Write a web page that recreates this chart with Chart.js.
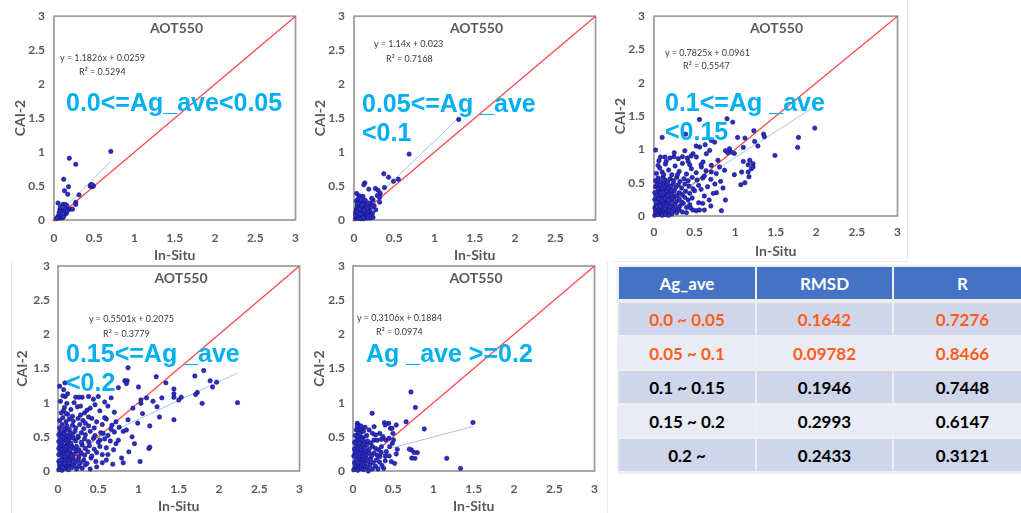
<!DOCTYPE html>
<html><head><meta charset="utf-8">
<script src="https://cdn.jsdelivr.net/npm/chart.js@4.4.1/dist/chart.umd.min.js"></script>
<style>
html,body{margin:0;padding:0;background:#fff;}
body{width:1021px;height:513px;overflow:hidden;position:relative;font-family:Lato,sans-serif;}
canvas{position:absolute;}
.t{position:absolute;white-space:nowrap;}
.ttl{font:bold 14px Lato,sans-serif;color:#595959;transform:translate(-50%,-50%);}
.eq{font:9px Lato,sans-serif;color:#3a3a3a;transform:translateY(-50%);}
.big{font:bold 25px "Liberation Sans",Arial,sans-serif;color:#00B0F0;line-height:29px;}
.ln{position:absolute;background:#ebebeb;}
#tbl{position:absolute;left:617px;top:265px;width:420px;height:209px;background:#eeeeee;}
.cell{position:absolute;display:flex;align-items:center;justify-content:center;font:bold 17px Lato,sans-serif;}
</style></head>
<body>
<div class="ln" style="left:907px;top:0;width:1px;height:259px"></div>
<div class="ln" style="left:610px;top:261px;width:298px;height:1px"></div>
<div class="ln" style="left:607px;top:262px;width:1px;height:251px"></div>
<div class="ln" style="left:11px;top:262px;width:1px;height:251px"></div>
<div id="tbl"></div>
<script>
// ---------- data ----------
const xTickValues = [0, 0.5, 1, 1.5, 2, 2.5, 3];
const xTickLabels = ['0', '0.5', '1', '1.5', '2', '2.5', '3'];
const yTickLabels = ['0', '0.5', '1', '1.5', '2', '2.5', '3'];
const panelTitles = ['AOT550', 'AOT550', 'AOT550', 'AOT550', 'AOT550'];
const xAxisTitle = 'In-Situ';
const yAxisTitle = 'CAI-2';
const slopes = [1.1826, 1.14, 0.7825, 0.5501, 0.3106];
const intercepts = [0.0259, 0.023, 0.0961, 0.2075, 0.1884];
const r2Values = ['0.5294', '0.7168', '0.5547', '0.3779', '0.0974'];
const rangeLabels = [
  ['0.0<=Ag_ave<0.05'],
  ['0.05<=Ag _ave', '<0.1'],
  ['0.1<=Ag _ave', '<0.15'],
  ['0.15<=Ag _ave', '<0.2'],
  ['Ag _ave >=0.2']
];
const oneToOne = [[0, 0], [3, 3]];

const p1 = [[0.706,1.01],[0.19,0.91],[0.27,0.82],[0.12,0.60],[0.18,0.49],[0.13,0.43],[0.17,0.38],[0.31,0.37],
[0.45,0.50],[0.46,0.52],[0.47,0.49],[0.48,0.51],[0.49,0.50],[0.47,0.52],
[0.27,0.26],[0.27,0.23],[0.05,0.25],[0.11,0.23],[0.14,0.23],[0.16,0.21],[0.20,0.16],[0.23,0.16],
[0.073,0.156],[0.094,0.137],[0.122,0.122],[0.065,0.107],[0.098,0.098],[0.131,0.088],[0.082,0.059],[0.114,0.059],
[0.049,0.049],[0.073,0.029],[0.106,0.034],[0.155,0.098],[0.175,0.146],[0.139,0.171],[0.06,0.07],[0.09,0.08],
[0.04,0.03],[0.12,0.05],[0.10,0.12],[0.08,0.19],[0.15,0.13],[0.03,0.02],[0.07,0.11],[0.11,0.09]];

const p2 = [[1.30,1.48],[0.685,0.97],[0.37,0.68],[0.43,0.63],[0.49,0.57],[0.55,0.60],[0.135,0.547],[0.122,0.518],
[0.184,0.454],[0.265,0.464],[0.298,0.439],[0.326,0.39],[0.379,0.478],[0.318,0.332],[0.033,0.39],[0.065,0.356],
[0.094,0.332],[0.236,0.293],[0.318,0.263],[0.236,0.039],
[0.02,0.02],[0.03,0.05],[0.04,0.09],[0.05,0.03],[0.06,0.12],[0.07,0.06],[0.08,0.15],[0.09,0.10],[0.10,0.04],
[0.11,0.13],[0.12,0.08],[0.13,0.18],[0.14,0.11],[0.15,0.05],[0.16,0.14],[0.17,0.21],[0.18,0.09],[0.19,0.17],
[0.20,0.12],[0.21,0.24],[0.22,0.19],[0.02,0.11],[0.03,0.16],[0.04,0.21],[0.05,0.18],[0.06,0.25],[0.07,0.20],
[0.08,0.28],[0.09,0.22],[0.10,0.17],[0.11,0.26],[0.12,0.21],[0.13,0.27],[0.14,0.16],[0.15,0.22],[0.16,0.08],
[0.17,0.12],[0.18,0.25],[0.19,0.06],[0.20,0.03],[0.12,0.02],[0.03,0.28],[0.05,0.31],[0.07,0.33],[0.09,0.30],
[0.11,0.35],[0.14,0.29],[0.04,0.14],[0.06,0.07],[0.08,0.02],[0.10,0.09],[0.13,0.04],[0.15,0.15],[0.17,0.03],
[0.02,0.07],[0.045,0.24],[0.085,0.19],[0.125,0.14],[0.165,0.18],[0.105,0.23],[0.065,0.16],[0.035,0.12],
[0.075,0.09],[0.115,0.03],[0.25,0.21],[0.27,0.15],[0.23,0.10],[0.29,0.36],[0.22,0.32]];

const p3 = [[1.98,1.32],[1.78,1.18],[1.77,1.03],[1.49,0.91],[0.90,1.46],[0.97,1.41],[0.56,1.45],[0.10,1.18],
[0.02,0.99],[0.39,1.23],[1.23,1.28],[1.35,1.23],[1.36,1.19],[1.12,1.17],[1.03,1.18],[1.24,1.12],[1.28,1.05],
[1.10,1.03],[0.99,0.94],[0.95,0.96],[1.10,0.82],[1.16,0.77],[1.20,0.71],[0.99,0.62],[1.07,0.47],[1.12,0.50],
[0.88,0.24],[0.83,0.08],[0.77,0.35],[0.62,0.09],[0.52,0.08],[0.68,0.24],[0.93,1.01],[0.88,0.98],[0.91,0.95],
[1.18,0.836],[1.22,0.786],[1.22,0.736],[1.08,0.66],[1.16,0.66],[1.17,0.59],[0.73,0.34],[0.60,0.19],[0.56,0.09],
[0.48,0.09],[0.706,1.134],[0.747,1.109],[0.686,0.985],[0.645,0.935],[0.563,1.035],[0.522,0.886],[0.481,0.935],
[0.604,0.811],[0.706,0.761],[0.788,0.836],[0.808,0.736],[0.869,0.687],[0.767,0.637],[0.706,0.662],[0.584,0.736],
[0.01,0.01],[0.03,0.04],[0.05,0.02],[0.07,0.06],[0.09,0.03],[0.11,0.08],[0.13,0.05],[0.15,0.09],[0.17,0.04],
[0.19,0.07],[0.22,0.03],[0.25,0.08],[0.28,0.05],[0.31,0.09],[0.35,0.06],[0.02,0.07],[0.06,0.09],[0.10,0.01],
[0.14,0.02],[0.18,0.01],
[0.01,0.12],[0.03,0.16],[0.05,0.11],[0.07,0.18],[0.09,0.13],[0.11,0.17],[0.13,0.12],[0.15,0.19],[0.17,0.14],
[0.19,0.11],[0.21,0.16],[0.23,0.13],[0.26,0.18],[0.29,0.12],[0.32,0.15],[0.36,0.19],[0.40,0.13],[0.44,0.17],
[0.04,0.14],[0.08,0.15],[0.12,0.19],[0.16,0.16],[0.20,0.14],[0.24,0.11],
[0.01,0.25],[0.03,0.21],[0.05,0.28],[0.07,0.23],[0.09,0.27],[0.11,0.22],[0.13,0.29],[0.15,0.24],[0.17,0.21],
[0.19,0.27],[0.22,0.23],[0.25,0.29],[0.28,0.22],[0.31,0.26],[0.34,0.21],[0.38,0.28],[0.42,0.24],[0.47,0.27],
[0.06,0.26],[0.10,0.24],[0.14,0.26],[0.18,0.24],[0.23,0.27],
[0.01,0.35],[0.03,0.31],[0.05,0.38],[0.07,0.33],[0.09,0.37],[0.11,0.32],[0.13,0.39],[0.15,0.34],[0.17,0.31],
[0.19,0.36],[0.22,0.33],[0.25,0.38],[0.28,0.31],[0.31,0.35],[0.35,0.32],[0.39,0.37],[0.44,0.34],[0.50,0.38],
[0.08,0.35],[0.12,0.36],[0.16,0.38],[0.21,0.39],
[0.02,0.44],[0.04,0.48],[0.06,0.42],[0.08,0.46],[0.10,0.41],[0.12,0.49],[0.14,0.44],[0.16,0.47],[0.18,0.42],
[0.21,0.45],[0.24,0.49],[0.27,0.43],[0.30,0.47],[0.34,0.42],[0.38,0.48],[0.43,0.45],[0.48,0.41],[0.55,0.46],
[0.02,0.53],[0.05,0.57],[0.08,0.52],[0.11,0.58],[0.14,0.54],[0.17,0.51],[0.20,0.56],[0.24,0.53],[0.28,0.58],
[0.32,0.52],[0.37,0.56],[0.42,0.53],[0.47,0.58],[0.53,0.54],[0.60,0.57],
[0.03,0.64],[0.07,0.72],[0.10,0.66],[0.14,0.78],[0.18,0.69],[0.22,0.62],[0.26,0.75],[0.31,0.67],[0.35,0.79],
[0.40,0.63],[0.46,0.71],[0.52,0.65],[0.58,0.77],[0.64,0.68],[0.05,0.76],[0.12,0.62],[0.29,0.62],[0.44,0.77],
[0.62,0.60],[0.70,0.55],[0.75,0.48],[0.82,0.52],[0.66,0.44],[0.58,0.40],[0.85,0.42],[0.62,0.30],[0.55,0.20],
[0.45,0.12],[0.40,0.05],[0.70,0.15],
[0.08,0.885],[0.135,0.885],[0.196,0.87],[0.245,0.89],[0.30,0.86],[0.35,0.89],[0.41,0.87],[0.456,0.90],
[0.52,1.05],[0.63,1.07],[0.25,0.95],[0.38,0.98],[0.15,0.82],[0.42,0.82],[0.06,0.83]];

const p4 = [[2.23,1.0],[1.79,0.99],[1.81,1.47],[1.70,1.39],[1.89,1.32],[1.97,1.30],[1.92,1.23],[1.73,1.15],
[1.71,1.12],[1.53,1.08],[1.44,1.08],[1.44,1.2],[1.44,1.13],[1.44,0.75],[1.22,1.38],[1.34,1.29],[1.29,1.07],
[1.23,0.94],[1.26,0.79],[1.1,1.07],[1.03,0.99],[1.0,1.23],[0.87,1.51],[0.83,1.32],[1.13,0.33],[1.02,0.14],
[0.81,0.12],[0.02,1.24],[0.086,1.29],[0.86,1.32],[0.85,1.28],[0.75,1.22],
[1.03,1.04],[1.18,1.02],[0.93,0.92],[1.05,0.84],[0.87,0.75],[0.99,0.70],[1.14,0.66],[1.14,0.35],[0.81,0.58],
[0.75,0.45],[0.69,0.31],[0.79,0.19],[0.60,0.16],[0.52,0.45],[0.56,0.55],[0.67,0.67],[0.48,0.72],[0.42,0.77],
[0.34,0.70],[0.22,1.08],[0.26,1.08],[0.30,1.08],[0.38,1.09],[0.50,1.09],[0.58,1.01],[0.46,0.97],[0.36,0.89],
[0.24,0.94],[0.28,0.82],[0.18,0.80],[0.12,0.83],[0.07,0.89],[0.11,0.99],[0.09,1.09],[0.07,1.19],[1.50,1.04],
[0.01,0.02],[0.03,0.06],[0.05,0.01],[0.07,0.08],[0.09,0.04],[0.11,0.07],[0.13,0.02],[0.15,0.09],[0.17,0.05],
[0.20,0.08],[0.23,0.03],[0.26,0.07],[0.30,0.04],[0.34,0.09],[0.02,0.09],[0.06,0.05],[0.12,0.10],
[0.01,0.14],[0.03,0.11],[0.05,0.18],[0.07,0.13],[0.09,0.17],[0.11,0.12],[0.13,0.19],[0.15,0.15],[0.17,0.11],
[0.19,0.18],[0.22,0.13],[0.25,0.17],[0.28,0.12],[0.32,0.16],[0.36,0.11],[0.41,0.19],[0.47,0.14],[0.04,0.16],
[0.08,0.11],[0.14,0.12],
[0.01,0.24],[0.03,0.28],[0.05,0.22],[0.07,0.26],[0.09,0.21],[0.11,0.29],[0.13,0.23],[0.15,0.27],[0.17,0.22],
[0.20,0.25],[0.23,0.29],[0.26,0.21],[0.29,0.26],[0.33,0.23],[0.37,0.28],[0.42,0.22],[0.48,0.27],[0.55,0.24],
[0.06,0.29],[0.12,0.25],
[0.01,0.33],[0.03,0.37],[0.05,0.31],[0.07,0.36],[0.09,0.32],[0.11,0.38],[0.13,0.34],[0.15,0.31],[0.17,0.37],
[0.20,0.33],[0.23,0.36],[0.26,0.31],[0.30,0.38],[0.34,0.33],[0.39,0.37],[0.45,0.32],[0.52,0.36],[0.60,0.34],
[0.04,0.39],[0.10,0.35],
[0.01,0.43],[0.03,0.47],[0.05,0.41],[0.07,0.45],[0.09,0.49],[0.11,0.42],[0.13,0.46],[0.16,0.41],[0.19,0.48],
[0.22,0.44],[0.25,0.49],[0.29,0.42],[0.33,0.47],[0.38,0.43],[0.44,0.48],[0.50,0.42],[0.58,0.47],[0.65,0.44],
[0.06,0.48],[0.14,0.49],
[0.01,0.53],[0.03,0.57],[0.05,0.51],[0.07,0.55],[0.09,0.59],[0.12,0.52],[0.15,0.56],[0.18,0.53],[0.21,0.58],
[0.25,0.51],[0.29,0.56],[0.34,0.53],[0.40,0.58],[0.46,0.52],[0.53,0.56],[0.62,0.52],[0.70,0.57],
[0.02,0.63],[0.05,0.68],[0.08,0.62],[0.11,0.66],[0.14,0.61],[0.18,0.67],[0.22,0.63],[0.27,0.68],[0.32,0.62],
[0.38,0.66],[0.45,0.63],[0.55,0.68],[0.66,0.61],[0.76,0.64],
[0.02,0.74],[0.06,0.78],[0.10,0.72],[0.14,0.76],[0.19,0.73],[0.25,0.77],[0.31,0.74],[0.38,0.79],[0.60,0.76],
[0.72,0.72],
[0.04,0.85],[0.08,0.93],[0.03,1.02],[0.10,0.84],[0.16,0.90],[0.20,1.0],[0.06,1.10],[0.12,1.13],[0.28,0.95],
[0.33,0.85],[0.40,0.92],[0.44,1.05],[0.52,0.88],[0.62,0.95],[0.70,0.86],[0.66,1.07],[0.58,0.78],[0.85,0.60],
[0.92,0.50],[0.95,0.40],[0.72,0.40],[0.88,0.28],[0.62,0.24],[0.68,0.10],[0.55,0.12],[0.48,0.06],[0.40,0.03]];

const p5 = [[0.72,1.157],[0.775,0.93],[0.238,0.845],[1.49,0.71],[0.885,0.615],[0.66,0.72],[0.39,0.708],[0.443,0.698],
[0.40,0.674],[0.465,0.625],[0.484,0.625],[0.537,0.674],[0.053,0.698],[0.066,0.674],[0.053,0.649],[0.078,0.610],
[0.107,0.600],[0.066,0.551],[0.086,0.512],[0.127,0.488],[0.053,0.464],[0.107,0.430],[0.262,0.649],[0.242,0.551],
[0.279,0.527],[0.332,0.551],[0.353,0.464],[0.373,0.503],[0.406,0.454],[0.447,0.479],[0.496,0.551],[0.504,0.454],
[0.488,0.405],[0.55,0.317],[0.726,0.308],[0.799,0.269],[0.77,0.185],[1.165,0.185],[1.336,0.039],[0.537,0.249],
[0.455,0.356],[0.414,0.283],[0.353,0.356],[0.332,0.21],[0.476,0.137],[0.381,0.039],[0.517,0.112],[0.70,0.32],
[0.76,0.27],[0.73,0.19],
[0.01,0.02],[0.03,0.06],[0.05,0.03],[0.07,0.09],[0.09,0.04],[0.11,0.07],[0.13,0.02],[0.15,0.08],[0.18,0.05],
[0.21,0.09],[0.24,0.03],[0.28,0.07],
[0.02,0.12],[0.04,0.16],[0.06,0.11],[0.08,0.18],[0.10,0.13],[0.12,0.17],[0.14,0.12],[0.16,0.19],[0.19,0.14],
[0.22,0.18],[0.25,0.12],[0.29,0.16],[0.33,0.13],
[0.01,0.22],[0.03,0.27],[0.05,0.23],[0.07,0.28],[0.09,0.21],[0.11,0.26],[0.13,0.22],[0.15,0.29],[0.17,0.24],
[0.20,0.27],[0.23,0.22],[0.26,0.26],[0.30,0.23],[0.35,0.27],[0.40,0.22],
[0.02,0.32],[0.04,0.37],[0.06,0.33],[0.08,0.38],[0.10,0.31],[0.12,0.36],[0.14,0.33],[0.17,0.38],[0.20,0.32],
[0.24,0.36],[0.28,0.33],[0.32,0.31],
[0.02,0.42],[0.05,0.45],[0.08,0.41],[0.11,0.46],[0.14,0.42],[0.18,0.44],[0.22,0.41],[0.26,0.45],
[0.03,0.52],[0.09,0.55],[0.13,0.58],[0.17,0.52],[0.20,0.60],[0.04,0.60],[0.15,0.64],[0.10,0.66],[0.30,0.45],
[0.45,0.22],[0.40,0.15],[0.36,0.08],[0.31,0.03],[0.06,0.01],[0.12,0.10],[0.19,0.00]];

const seriesList = [p1, p2, p3, p4, p5];

const tableHeader = ['Ag_ave', 'RMSD', 'R'];
const agRanges = ['0.0 ~ 0.05', '0.05 ~ 0.1', '0.1 ~ 0.15', '0.15 ~ 0.2', '0.2 ~'];
const rmsdValues = ['0.1642', '0.09782', '0.1946', '0.2993', '0.2433'];
const rValues = ['0.7276', '0.8466', '0.7448', '0.6147', '0.3121'];
const highlightRows = [true, true, false, false, false];

// ---------- layout (positions / styles) ----------
const panels = [
  {left:0,   top:0,   w:310, h:262, padTop:15, padRight:11, xTickPad:11, yTitlePad:13, yTickPad:9,
   title:[176.5,27], eq:[60,57], r2:[79,71], big:[66,102]},
  {left:300, top:0,   w:310, h:262, padTop:15, padRight:11, xTickPad:11, yTitlePad:13, yTickPad:9,
   title:[476.5,27], eq:[374,43], r2:[386,58], big:[362,103]},
  {left:600, top:0,   w:310, h:258, padTop:15, padRight:11, xTickPad:9, yTitlePad:13, yTickPad:9,
   title:[776.5,27], eq:[665,52], r2:[683,65], big:[665,102]},
  {left:4,   top:250, w:310, h:263, padTop:16, padRight:11, xTickPad:11, yTitlePad:11, yTickPad:8,
   title:[181,277], eq:[89,318], r2:[103,333], big:[66,353]},
  {left:299, top:250, w:310, h:263, padTop:16, padRight:12, xTickPad:11, yTitlePad:13, yTickPad:8,
   title:[476,277], eq:[357,317], r2:[376,331], big:[366,353]}
];

const tickFont = {family:'Lato', size:12, weight:'bold'};
const axisTitleFont = {family:'Lato', size:14, weight:'bold', lineHeight:1};
const gray = '#595959';

const framePlugin = {
  id:'frame',
  beforeDatasetsDraw(chart){
    const a = chart.chartArea, c = chart.ctx;
    c.save();
    c.strokeStyle = '#9f9f9f';
    c.lineWidth = 1.8;
    c.strokeRect(a.left, a.top, a.right - a.left, a.bottom - a.top);
    c.restore();
  }
};

function addText(cls, x, y, html){
  const d = document.createElement('div');
  d.className = 't ' + cls;
  d.style.left = x + 'px';
  d.style.top = y + 'px';
  d.innerHTML = html;
  document.body.appendChild(d);
  return d;
}

panels.forEach((L, i) => {
  const cv = document.createElement('canvas');
  cv.width = L.w; cv.height = L.h;
  cv.style.left = L.left + 'px'; cv.style.top = L.top + 'px';
  cv.style.width = L.w + 'px'; cv.style.height = L.h + 'px';
  document.body.appendChild(cv);

  const pts = seriesList[i];
  const xs = pts.map(p => p[0]);
  const xmin = Math.min(...xs), xmax = Math.max(...xs);
  const trend = [xmin, xmax].map(x => ({x, y: slopes[i] * x + intercepts[i]}));

  new Chart(cv.getContext('2d'), {
    type:'scatter',
    data:{datasets:[
      {data: pts.map(p => ({x:p[0], y:p[1]})), pointRadius:2.2, pointBorderWidth:0.6,
       pointBackgroundColor:'#2b2bd0', pointBorderColor:'#151565', clip:false, order:0},
      {data: trend, showLine:true, borderColor:'#a7c4ea', borderWidth:1, pointRadius:0, order:1},
      {data: oneToOne.map(p => ({x:p[0], y:p[1]})), showLine:true, borderColor:'#ff4343', borderWidth:1.2,
       pointRadius:[1.6,0], pointBackgroundColor:'#ED7D31', pointBorderWidth:0, clip:false, order:2}
    ]},
    options:{
      responsive:false, animation:false, devicePixelRatio:1,
      layout:{padding:{top:L.padTop, right:L.padRight, left:0, bottom:0}},
      plugins:{legend:{display:false}, tooltip:{enabled:false}},
      scales:{
        x:{type:'linear', min:0, max:3,
           afterBuildTicks: s => { s.ticks = xTickValues.map(v => ({value:v})); },
           ticks:{callback:(v, k) => xTickLabels[k], font:tickFont, color:gray, padding:L.xTickPad,
                  maxRotation:0, autoSkip:false},
           grid:{display:false, drawTicks:false}, border:{display:false},
           title:{display:true, text:xAxisTitle, font:axisTitleFont, color:gray, padding:0},
           afterFit: s => { s.height = 42; }},
        y:{type:'linear', min:0, max:3,
           afterBuildTicks: s => { s.ticks = xTickValues.map(v => ({value:v})); },
           ticks:{callback:(v, k) => yTickLabels[k], font:tickFont, color:gray, padding:L.yTickPad, autoSkip:false},
           grid:{display:false, drawTicks:false}, border:{display:false},
           title:{display:true, text:yAxisTitle, font:axisTitleFont, color:gray, padding:{top:L.yTitlePad, bottom:0}},
           afterFit: s => { s.width = 54; }}
      }
    },
    plugins:[framePlugin]
  });

  addText('ttl', L.title[0], L.title[1], panelTitles[i]);
  addText('eq', L.eq[0], L.eq[1], 'y = ' + slopes[i] + 'x + ' + intercepts[i]);
  addText('eq', L.r2[0], L.r2[1], 'R² = ' + r2Values[i]);
  addText('big', L.big[0], L.big[1] - 14.5, rangeLabels[i].join('<br>'));
});

// ---------- table ----------
const tbl = document.getElementById('tbl');
const colLeft = [2, 140, 277];
const colW = [136, 135, 137];
const headTop = 2, headH = 32;
const rowTops = [38, 72, 106, 140, 174];
const rowH = 32;
const rowBg = ['#CFD5EA', '#E9EBF5', '#CFD5EA', '#E9EBF5', '#CFD5EA'];
function cell(x, y, w, h, bg, color, text){
  const d = document.createElement('div');
  d.className = 'cell';
  Object.assign(d.style, {left:x+'px', top:y+'px', width:w+'px', height:h+'px', background:bg, color:color});
  d.textContent = text;
  tbl.appendChild(d);
}
tableHeader.forEach((h, c) => cell(colLeft[c], headTop, colW[c], headH, '#4472C4', '#ffffff', h));
agRanges.forEach((r, k) => {
  const col = highlightRows[k] ? '#FF5E1A' : '#000000';
  const vals = [r, rmsdValues[k], rValues[k]];
  vals.forEach((v, c) => cell(colLeft[c], rowTops[k], colW[c], rowH, rowBg[k], col, v));
});
</script>
</body></html>
